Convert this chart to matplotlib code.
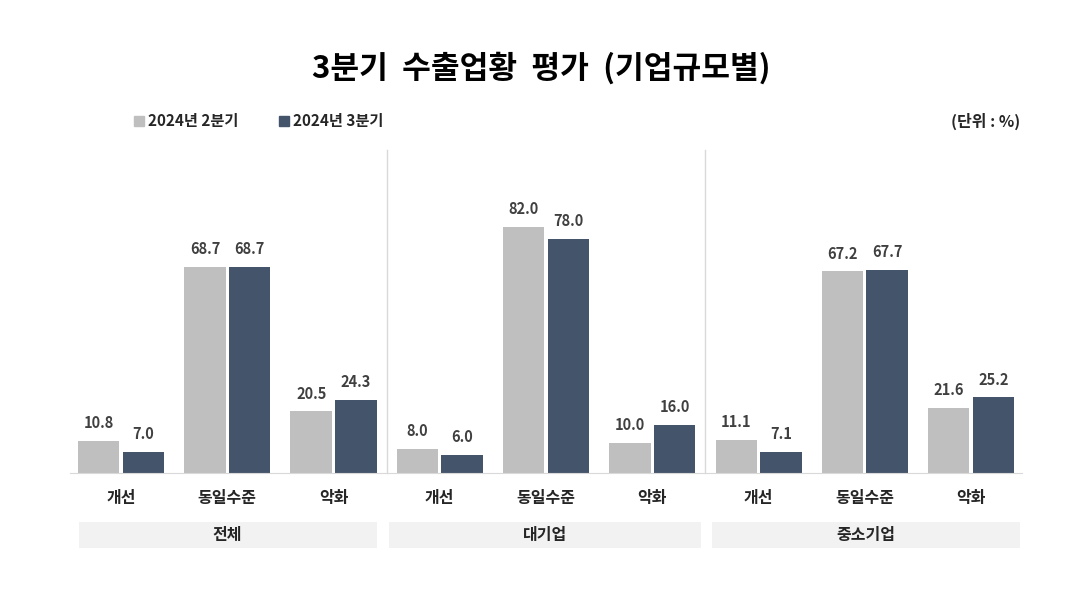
import matplotlib
matplotlib.use("Agg")
import matplotlib.pyplot as plt
from matplotlib.patches import Rectangle
from matplotlib.lines import Line2D
import matplotlib.transforms as mtransforms
import numpy as np

plt.rcParams['font.family'] = ['Noto Sans CJK KR', 'DejaVu Sans']

groups = ["전체", "대기업", "중소기업"]
categories = ["개선", "동일수준", "악화"]
series_names = ["2024년 2분기", "2024년 3분기"]
q2 = [10.8, 68.7, 20.5, 8.0, 82.0, 10.0, 11.1, 67.2, 21.6]
q3 = [7.0, 68.7, 24.3, 6.0, 78.0, 16.0, 7.1, 67.7, 25.2]

C_Q2 = "#BFBFBF"
C_Q3 = "#44546A"
TXT = "#262626"

fig = plt.figure(figsize=(10.82, 6.07), dpi=100)
ax = fig.add_axes([0.0647, 0.2208, 0.8799, 0.5321])

x = np.arange(len(q2))
w = 0.39
off = 0.21
b1 = ax.bar(x - off, q2, w, color=C_Q2)
b2 = ax.bar(x + off, q3, w, color=C_Q3)

for bars, vals in [(b1, q2), (b2, q3)]:
    for b, v in zip(bars, vals):
        ax.annotate(f"{v:.1f}", (b.get_x() + b.get_width() / 2, v),
                    xytext=(0, 7), textcoords="offset points",
                    ha="center", va="bottom", fontsize=10.5, fontweight="bold",
                    color="#404040")

ax.set_xlim(-0.48, 8.48)
ax.set_ylim(0, 107.7)
ax.set_yticks([])
for s in ["left", "right", "top"]:
    ax.spines[s].set_visible(False)
ax.spines["bottom"].set_color("#D9D9D9")
ax.set_xticks(x)
ax.set_xticklabels(categories * 3, fontsize=11.5, fontweight="bold", color=TXT)
ax.tick_params(axis="x", length=0, pad=12)

# group dividers
trans = mtransforms.blended_transform_factory(ax.transData, ax.transAxes)
for xd in [2.5, 5.5]:
    ax.plot([xd, xd], [0, 1], transform=trans, color="#D9D9D9", lw=1, clip_on=False)

# group label boxes
boxes = [(-0.40, 2.405), (2.52, 5.46), (5.56, 8.46)]
for (x0, x1), g in zip(boxes, groups):
    ax.add_patch(Rectangle((x0, -0.232), x1 - x0, 0.08, transform=trans,
                           facecolor="#F2F2F2", edgecolor="none", clip_on=False))
    ax.text((x0 + x1) / 2, -0.192, g, transform=trans, ha="center", va="center",
            fontsize=11.5, fontweight="bold", color=TXT)

fig.text(0.5, 0.888, "3분기  수출업황  평가  (기업규모별)", ha="center", va="center",
         fontsize=22.5, fontweight="bold", color="black")
fig.text(0.943, 0.800, "(단위 : %)", ha="right", va="center", fontsize=11.5,
         fontweight="bold", color=TXT)

handles = [Line2D([], [], marker="s", ls="", markersize=6.5, color=c) for c in (C_Q2, C_Q3)]
leg = fig.legend(handles, series_names, loc="center left", bbox_to_anchor=(0.110, 0.800),
                 ncol=2, frameon=False, handlelength=0.8, handletextpad=0.2,
                 columnspacing=2.6, prop={"size": 11, "weight": "bold"})
for t in leg.get_texts():
    t.set_color(TXT)

fig.savefig("out.png", dpi=100)
